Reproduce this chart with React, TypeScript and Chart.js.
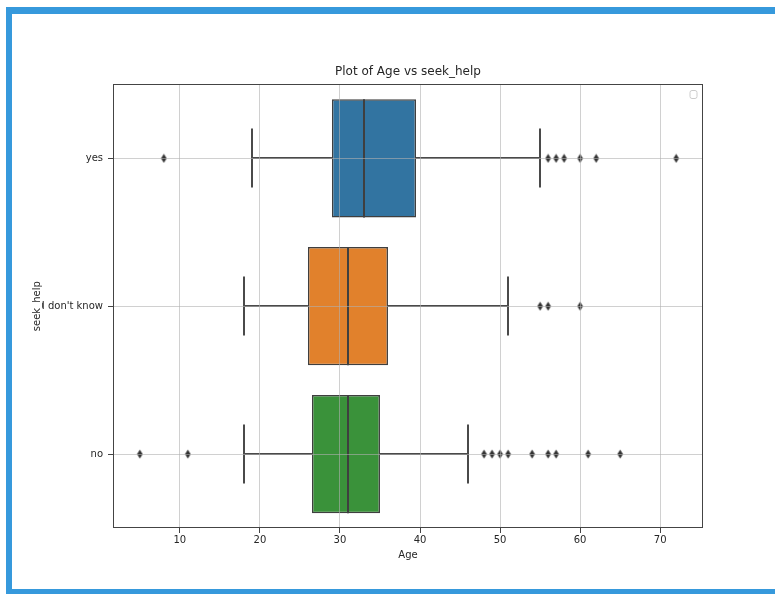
import React, { useEffect, useRef } from 'react';
import { Chart, registerables } from 'chart.js';

Chart.register(...registerables);

// ---- data ----
const categories = ['yes', "I don't know", 'no'];
const q1Values = [29, 26, 26.5];
const medianValues = [33, 31, 31];
const q3Values = [39.5, 36, 35];
const whiskerLow = [19, 18, 18];
const whiskerHigh = [55, 51, 46];
const outliersYes = [8, 56, 57, 58, 60, 62, 72];
const outliersDontKnow = [55, 56, 60];
const outliersNo = [5, 11, 48, 49, 50, 51, 54, 56, 57, 61, 65];
const xTicks = [10, 20, 30, 40, 50, 60, 70];
const boxColors = ['#3274a1', '#e1812c', '#3a923a'];

const titleText = 'Plot of Age vs seek_help';
const xTitle = 'Age';
const yTitle = 'seek_help';

const LINE = '#3f3f3f';
const WHISKER = '#4a4a4a';
const TEXT = '#262626';
const SPINE = '#444444';
const GRID = 'rgba(176,176,176,0.6)';
const FONT = "'DejaVu Sans', sans-serif";

const outlierGroups = [outliersYes, outliersDontKnow, outliersNo];

function makeDiamond(): HTMLCanvasElement {
  const c = document.createElement('canvas');
  c.width = 7;
  c.height = 10;
  const g = c.getContext('2d')!;
  g.fillStyle = '#333333';
  g.beginPath();
  g.moveTo(3.5, 0.5);
  g.lineTo(6.3, 5);
  g.lineTo(3.5, 9.5);
  g.lineTo(0.7, 5);
  g.closePath();
  g.fill();
  return c;
}

const boxExtras = {
  id: 'boxExtras',
  beforeDatasetsDraw(chart: any) {
    const { ctx } = chart;
    const x = chart.scales.x;
    const y = chart.scales.y;
    const meta = chart.getDatasetMeta(0);
    ctx.save();
    ctx.strokeStyle = WHISKER;
    ctx.lineWidth = 2;
    categories.forEach((_, i) => {
      const yc = Math.round(y.getPixelForValue(i));
      const bar = meta.data[i];
      const h = bar ? bar.height : 100;
      const cap = h / 4;
      const xl = Math.round(x.getPixelForValue(whiskerLow[i]));
      const x1 = x.getPixelForValue(q1Values[i]);
      const x3 = x.getPixelForValue(q3Values[i]);
      const xh = Math.round(x.getPixelForValue(whiskerHigh[i]));
      ctx.beginPath();
      ctx.moveTo(xl, yc);
      ctx.lineTo(x1, yc);
      ctx.moveTo(x3, yc);
      ctx.lineTo(xh, yc);
      ctx.moveTo(xl, yc - cap);
      ctx.lineTo(xl, yc + cap);
      ctx.moveTo(xh, yc - cap);
      ctx.lineTo(xh, yc + cap);
      ctx.stroke();
    });
    ctx.restore();
  },
  afterDatasetsDraw(chart: any) {
    const { ctx } = chart;
    const x = chart.scales.x;
    const y = chart.scales.y;
    const meta = chart.getDatasetMeta(0);
    ctx.save();
    ctx.strokeStyle = LINE;
    ctx.lineWidth = 2;
    categories.forEach((_, i) => {
      const yc = y.getPixelForValue(i);
      const bar = meta.data[i];
      const h = bar ? bar.height : 100;
      const xm = Math.round(x.getPixelForValue(medianValues[i]));
      ctx.beginPath();
      ctx.moveTo(xm, yc - h / 2);
      ctx.lineTo(xm, yc + h / 2);
      ctx.stroke();
    });
    ctx.restore();
  },
  afterDraw(chart: any) {
    const { ctx, chartArea } = chart;
    const l = Math.round(chartArea.left) + 0.5;
    const t = Math.round(chartArea.top) + 0.5;
    const r = Math.round(chartArea.right) - 0.5;
    const b = Math.round(chartArea.bottom) - 0.5;
    ctx.save();
    ctx.strokeStyle = SPINE;
    ctx.lineWidth = 1;
    ctx.strokeRect(l, t, r - l, b - t);
    // empty legend frame
    ctx.strokeStyle = '#cccccc';
    ctx.fillStyle = 'rgba(255,255,255,0.8)';
    const lx = r - 12.5;
    const ly = t + 6;
    const w = 7;
    const hh = 8;
    const rad = 2;
    ctx.beginPath();
    ctx.moveTo(lx + rad, ly);
    ctx.lineTo(lx + w - rad, ly);
    ctx.quadraticCurveTo(lx + w, ly, lx + w, ly + rad);
    ctx.lineTo(lx + w, ly + hh - rad);
    ctx.quadraticCurveTo(lx + w, ly + hh, lx + w - rad, ly + hh);
    ctx.lineTo(lx + rad, ly + hh);
    ctx.quadraticCurveTo(lx, ly + hh, lx, ly + hh - rad);
    ctx.lineTo(lx, ly + rad);
    ctx.quadraticCurveTo(lx, ly, lx + rad, ly);
    ctx.closePath();
    ctx.fill();
    ctx.stroke();
    ctx.restore();
  },
};

export default function App() {
  const ref = useRef<HTMLCanvasElement | null>(null);

  useEffect(() => {
    if (!ref.current) return;
    const diamond = makeDiamond();
    const all = [...whiskerLow, ...whiskerHigh, ...outliersYes, ...outliersDontKnow, ...outliersNo];
    const dMin = Math.min(...all);
    const dMax = Math.max(...all);
    const pad = (dMax - dMin) * 0.05;

    const outlierData: any[] = [];
    outlierGroups.forEach((grp, i) => {
      grp.forEach((v) => outlierData.push({ x: v, y: categories[i] }));
    });

    const chart = new Chart(ref.current, {
      type: 'bar',
      data: {
        labels: categories,
        datasets: [
          {
            type: 'bar',
            data: categories.map((_, i) => [q1Values[i], q3Values[i]]) as any,
            backgroundColor: boxColors,
            borderColor: LINE,
            borderWidth: 1.5,
            borderSkipped: false,
            categoryPercentage: 0.8,
            barPercentage: 1,
            order: 2,
          } as any,
          {
            type: 'scatter',
            data: outlierData,
            pointStyle: diamond,
            pointRadius: 4,
            showLine: false,
            order: 1,
          } as any,
        ],
      },
      options: {
        indexAxis: 'y',
        animation: false,
        responsive: false,
        events: [],
        layout: { padding: { left: 31, right: 72, top: 0, bottom: 33 } },
        plugins: {
          legend: { display: false },
          tooltip: { enabled: false },
          title: { display: false },
        },
        scales: {
          x: {
            type: 'linear',
            position: 'bottom',
            min: dMin - pad,
            max: dMax + pad,
            afterBuildTicks: (axis: any) => {
              axis.ticks = xTicks.map((v) => ({ value: v }));
            },
            grid: {
              color: GRID,
              lineWidth: 1,
              z: 1,
              drawTicks: true,
              tickLength: 5,
              tickColor: SPINE,
              tickWidth: 1,
            },
            border: { display: false },
            ticks: {
              font: { family: FONT, size: 10 },
              color: TEXT,
              padding: 1,
              maxRotation: 0,
            },
            title: {
              display: true,
              text: xTitle,
              font: { family: FONT, size: 10 },
              color: TEXT,
              padding: { top: 2, bottom: 0 },
            },
          },
          x2: {
            type: 'linear',
            position: 'top',
            grid: { display: false, drawTicks: false },
            border: { display: false },
            ticks: { display: false },
            title: {
              display: true,
              text: titleText,
              font: { family: FONT, size: 12 },
              color: TEXT,
              padding: { top: 65, bottom: 5 },
            },
          },
          y: {
            type: 'category',
            position: 'left',
            offset: true,
            afterFit: (axis: any) => {
              axis.width = 82;
            },
            grid: {
              color: GRID,
              lineWidth: 1,
              offset: false,
              z: 1,
              drawTicks: true,
              tickLength: 5,
              tickColor: SPINE,
              tickWidth: 1,
            },
            border: { display: false },
            ticks: {
              font: { family: FONT, size: 10 },
              color: TEXT,
              padding: 5,
            },
            title: {
              display: true,
              text: yTitle,
              font: { family: FONT, size: 10 },
              color: TEXT,
              padding: { top: 0, bottom: 0 },
            },
          },
        },
      } as any,
      plugins: [boxExtras],
    });
    return () => chart.destroy();
  }, []);

  const blue = '#3699dc';
  return (
    <div style={{ position: 'absolute', left: 0, top: 0, width: 775, height: 594, background: '#ffffff', overflow: 'hidden' }}>
      <canvas ref={ref} width={775} height={594} style={{ position: 'absolute', left: 0, top: 0, width: 775, height: 594, display: 'block' }} />
      <div style={{ position: 'absolute', left: 6, top: 7, width: 769, height: 7, background: blue }} />
      <div style={{ position: 'absolute', left: 6, top: 7, width: 6, height: 587, background: blue }} />
      <div style={{ position: 'absolute', left: 6, top: 589, width: 769, height: 5, background: blue }} />
    </div>
  );
}
